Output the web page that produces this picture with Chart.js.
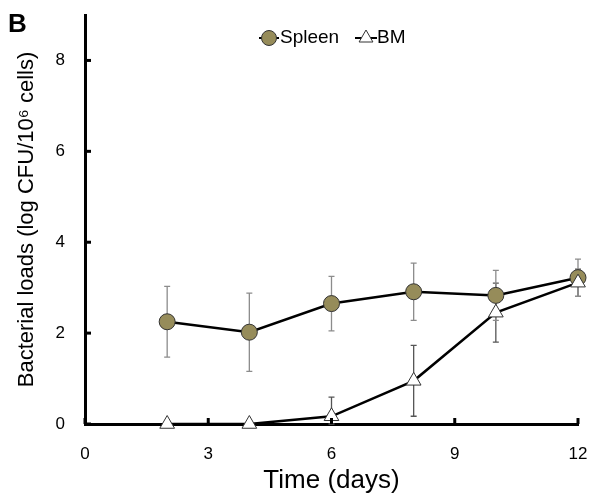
<!DOCTYPE html>
<html>
<head>
<meta charset="utf-8">
<script src="https://cdn.jsdelivr.net/npm/chart.js@4.4.0/dist/chart.umd.min.js"></script>
<style>
  html, body { margin: 0; padding: 0; background: #fff; }
</style>
</head>
<body>
<canvas id="chart" width="591" height="496"></canvas>
<script>
// values (log CFU / 10^6 cells)
const days = [2, 4, 6, 8, 10, 12];
const spleenMean = [2.25, 2.02, 2.65, 2.91, 2.83, 3.22];
const spleenErr = [0.78, 0.86, 0.6, 0.63, 0.55, 0.41];
const bmMean = [0, 0, 0.17, 0.95, 2.45, 3.11];
const bmErr = [0, 0, 0.42, 0.78, 0.65, 0.3];
const xTicks = [0, 3, 6, 9, 12];
const yTicks = [0, 2, 4, 6, 8];

const FONT = "'Liberation Sans', Arial, sans-serif";
const OLIVE = "#968c5a";

function toPoints(means) {
  return days.map((d, i) => ({ x: d, y: means[i] }));
}

// vertical error bars with small caps, drawn under the markers
const errorBars = {
  id: "errorBars",
  beforeDatasetsDraw(chart) {
    const { ctx, scales } = chart;
    chart.data.datasets.forEach((ds) => {
      const errs = ds.errors;
      ctx.save();
      ctx.strokeStyle = ds.errorColor;
      ctx.lineWidth = 1.3;
      ds.data.forEach((p, i) => {
        if (!errs[i]) return;
        const x = scales.x.getPixelForValue(p.x);
        const yTop = scales.y.getPixelForValue(p.y + errs[i]);
        const yBot = scales.y.getPixelForValue(Math.max(0, p.y - errs[i]));
        ctx.beginPath();
        ctx.moveTo(x, yTop);
        ctx.lineTo(x, yBot);
        ctx.moveTo(x - 3, yTop);
        ctx.lineTo(x + 3, yTop);
        ctx.moveTo(x - 3, yBot);
        ctx.lineTo(x + 3, yBot);
        ctx.stroke();
      });
      ctx.restore();
    });
  },
};

// inward tick marks, panel letter and the legend
const decorations = {
  id: "decorations",
  afterDraw(chart) {
    const { ctx, scales, chartArea } = chart;
    ctx.save();
    ctx.strokeStyle = "#000";
    ctx.lineWidth = 3;
    xTicks.forEach((v) => {
      const x = scales.x.getPixelForValue(v);
      ctx.beginPath();
      ctx.moveTo(x, chartArea.bottom);
      ctx.lineTo(x, chartArea.bottom - 6);
      ctx.stroke();
    });
    yTicks.forEach((v) => {
      const y = scales.y.getPixelForValue(v);
      ctx.beginPath();
      ctx.moveTo(chartArea.left, y);
      ctx.lineTo(chartArea.left + 6, y);
      ctx.stroke();
    });

    ctx.fillStyle = "#000";
    ctx.font = "bold 26px " + FONT;
    ctx.textBaseline = "alphabetic";
    ctx.textAlign = "left";
    ctx.fillText("B", 8, 32);

    // legend
    const ly = 38;
    ctx.lineWidth = 2;
    ctx.beginPath();
    ctx.moveTo(259, ly);
    ctx.lineTo(279, ly);
    ctx.moveTo(355, ly);
    ctx.lineTo(377, ly);
    ctx.stroke();
    ctx.fillStyle = OLIVE;
    ctx.strokeStyle = "#333";
    ctx.lineWidth = 1;
    Chart.helpers.drawPoint(ctx, { pointStyle: "circle", radius: 7.5, borderWidth: 1 }, 269, ly);
    ctx.fillStyle = "#fff";
    Chart.helpers.drawPoint(ctx, { pointStyle: "triangle", radius: 8, borderWidth: 1 }, 366, ly);
    ctx.fillStyle = "#000";
    ctx.font = "19px " + FONT;
    ctx.textBaseline = "middle";
    ctx.fillText("Spleen", 280, ly);
    ctx.fillText("BM", 377, ly);
    ctx.restore();
  },
};

new Chart(document.getElementById("chart"), {
  type: "scatter",
  data: {
    datasets: [
      {
        label: "BM",
        data: toPoints(bmMean),
        errors: bmErr,
        errorColor: "#555",
        showLine: true,
        borderColor: "#000",
        borderWidth: 2.5,
        pointStyle: "triangle",
        pointRadius: 8.5,
        pointBackgroundColor: "#fff",
        pointBorderColor: "#333",
        pointBorderWidth: 1,
        clip: false,
        order: 0,
      },
      {
        label: "Spleen",
        data: toPoints(spleenMean),
        errors: spleenErr,
        errorColor: "#8c8c8c",
        showLine: true,
        borderColor: "#000",
        borderWidth: 2.5,
        pointStyle: "circle",
        pointRadius: 8,
        pointBackgroundColor: OLIVE,
        pointBorderColor: "#333",
        pointBorderWidth: 1,
        clip: false,
        order: 1,
      },
    ],
  },
  options: {
    responsive: false,
    animation: false,
    layout: { padding: { top: 15, right: 13, left: 0, bottom: 0 } },
    plugins: { legend: { display: false }, tooltip: { enabled: false } },
    scales: {
      x: {
        type: "linear",
        min: 0,
        max: 12,
        grid: { display: false },
        border: { display: true, color: "#000", width: 3 },
        afterBuildTicks: (s) => { s.ticks = xTicks.map((v) => ({ value: v })); },
        afterFit: (s) => { s.height = 72; s.paddingLeft = 0; s.paddingRight = 0; },
        ticks: { color: "#000", font: { family: FONT, size: 17 }, padding: 12 },
        title: {
          display: true,
          text: "Time (days)",
          color: "#000",
          font: { family: FONT, size: 26 },
          padding: { top: 0, bottom: 0 },
        },
      },
      y: {
        type: "linear",
        min: 0,
        max: 9,
        grid: { display: false },
        border: { display: true, color: "#000", width: 3 },
        afterBuildTicks: (s) => { s.ticks = yTicks.map((v) => ({ value: v })); },
        afterFit: (s) => { s.width = 85; s.paddingTop = 0; s.paddingBottom = 0; },
        ticks: { color: "#000", font: { family: FONT, size: 17 }, padding: 12 },
        title: {
          display: true,
          text: "Bacterial loads (log CFU/10\u2076 cells)",
          color: "#000",
          font: { family: FONT, size: 22 },
          padding: { top: 14, bottom: 0 },
        },
      },
    },
  },
  plugins: [errorBars, decorations],
});
</script>
</body>
</html>
